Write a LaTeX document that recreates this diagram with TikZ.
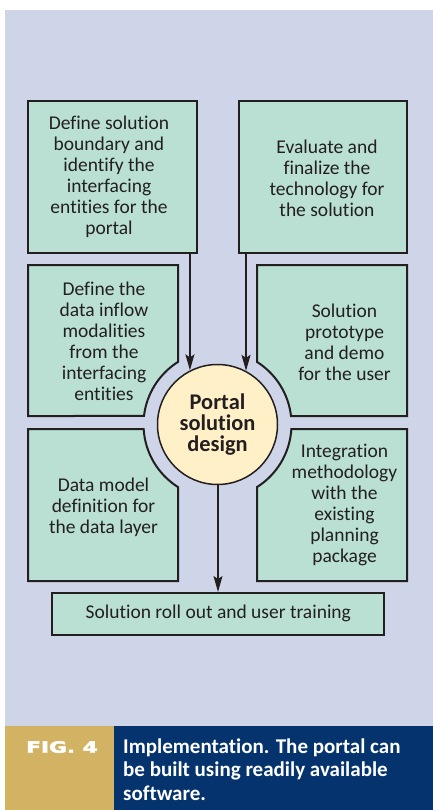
\documentclass[tikz,border=0pt]{standalone}
\usepackage{fontspec}
\setmainfont{Carlito}[Ligatures=NoCommon]
\newfontfamily\figfont{DejaVu Sans}[BoldFeatures={FakeBold=2.5}]
\usetikzlibrary{arrows.meta}
\definecolor{panelbg}{RGB}{207,213,233}
\definecolor{mint}{RGB}{185,224,210}
\definecolor{cream}{RGB}{255,240,200}
\definecolor{capgold}{RGB}{210,178,99}
\definecolor{capnavy}{RGB}{5,51,110}
\definecolor{ink}{RGB}{35,31,32}
\begin{document}
\begin{tikzpicture}[x=1pt,y=-1pt,
  boxline/.style={draw=ink, line width=2pt, fill=mint, line join=miter},
  plainbox/.style={boxline, rectangle, inner sep=0pt},
  boxtext/.style={text=ink, align=center, inner sep=0pt, font=\fontsize{19.5}{21}\selectfont},
  hubnode/.style={circle, draw=ink, line width=1.5pt, fill=cream, minimum size=120pt,
    inner sep=0pt, text=ink, align=center, font=\bfseries\fontsize{22.4}{21.3}\selectfont},
  flow/.style={draw=ink, line width=1.5pt, -{Stealth[length=16pt,width=9pt,inset=3pt]}},
  captext/.style={text=white, inner sep=0pt, align=left, font=\bfseries\fontsize{21}{23.3}\selectfont}
]
\useasboundingbox (0,0) rectangle (433,810);

% panel and caption band
\fill[panelbg] (5,10) rectangle (433,726);
\fill[capgold] (5,726) rectangle (114,810);
\fill[capnavy] (114,726) rectangle (433,810);

% top boxes
\node[plainbox, minimum width=169pt, minimum height=152pt] (b1) at (112.5,177) {};
\node[boxtext] (t1) at (109,177) {Define solution\\boundary and\\identify the\\interfacing\\entities for the\\portal};
\node[plainbox, minimum width=168pt, minimum height=152pt] (b2) at (323,177) {};
\node[boxtext] (t2) at (327,178) {Evaluate and\\finalize the\\technology for\\the solution};

% boxes cut by the ring around the hub (ring centre (217.5,424.5), radius 74)
\draw[boxline] (28,265) -- (178,265) -- (178,361.92)
  arc[start angle=237.74, end angle=186.6, radius=74] -- (28,416) -- cycle;
\node[boxtext] (t3) at (104,341) {Define the\\data inflow\\modalities\\from the\\interfacing\\entities};

\draw[boxline] (257,265) -- (407,265) -- (407,416) -- (291.01,416)
  arc[start angle=353.4, end angle=302.26, radius=74] -- cycle;
\node[boxtext] (t4) at (344.5,342) {Solution\\prototype\\and demo\\for the user};

\draw[boxline] (28,429) -- (143.64,429)
  arc[start angle=176.51, end angle=122.26, radius=74] -- (178,581) -- (28,581) -- cycle;
\node[boxtext] (t5) at (103.5,507) {Data model\\definition for\\the data layer};

\draw[boxline] (257,581) -- (257,487.08)
  arc[start angle=57.74, end angle=3.49, radius=74] -- (407,429) -- (407,581) -- cycle;
\node[boxtext] (t6) at (344.5,505) {Integration\\methodology\\with the\\existing\\planning\\package};

% bottom box
\node[plainbox, minimum width=332pt, minimum height=42pt] (b7) at (218,614) {};
\node[boxtext] (t7) at (218.3,613.5) {Solution roll out and user training};

% hub
\node[hubnode] (hub) at (217.5,424.5) {Portal\\solution\\design};

% connectors
\draw[flow] (b1.south -| hub.117.28) -- (hub.117.28);
\draw[flow] (b2.south -| hub.62.72) -- (hub.62.72);
\draw[flow] (hub.south -| b7.north) -- (b7.north);

% caption
\node[anchor=base west, inner sep=0pt, text=white] (fignum) at (26,752.7)
  {\scalebox{1.4}[1]{\figfont\bfseries\fontsize{15.5}{18}\selectfont FIG. 4}};
\node[captext, anchor=north west] (cap) at (123,738.5)
  {Implementation. The portal can\\be built using readily available\\software.};
\end{tikzpicture}
\end{document}
